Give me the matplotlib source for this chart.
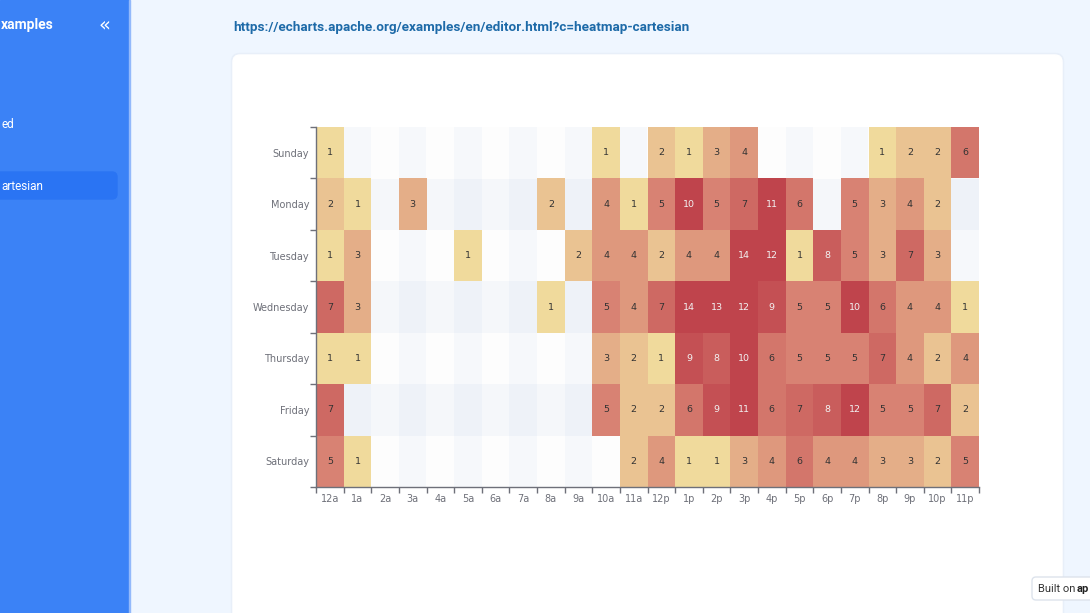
import numpy as np
import matplotlib
matplotlib.use("Agg")
import matplotlib.pyplot as plt
from matplotlib.colors import LinearSegmentedColormap
from matplotlib.patches import FancyBboxPatch, Rectangle

# data (y index 0 = Saturday at the bottom, like the echarts example)
hours = ['12a', '1a', '2a', '3a', '4a', '5a', '6a', '7a', '8a', '9a', '10a', '11a',
         '12p', '1p', '2p', '3p', '4p', '5p', '6p', '7p', '8p', '9p', '10p', '11p']
days = ['Saturday', 'Friday', 'Thursday', 'Wednesday', 'Tuesday', 'Monday', 'Sunday']

saturday = [5, 1, 0, 0, 0, 0, 0, 0, 0, 0, 0, 2, 4, 1, 1, 3, 4, 6, 4, 4, 3, 3, 2, 5]
friday = [7, 0, 0, 0, 0, 0, 0, 0, 0, 0, 5, 2, 2, 6, 9, 11, 6, 7, 8, 12, 5, 5, 7, 2]
thursday = [1, 1, 0, 0, 0, 0, 0, 0, 0, 0, 3, 2, 1, 9, 8, 10, 6, 5, 5, 5, 7, 4, 2, 4]
wednesday = [7, 3, 0, 0, 0, 0, 0, 0, 1, 0, 5, 4, 7, 14, 13, 12, 9, 5, 5, 10, 6, 4, 4, 1]
tuesday = [1, 3, 0, 0, 0, 1, 0, 0, 0, 2, 4, 4, 2, 4, 4, 14, 12, 1, 8, 5, 3, 7, 3, 0]
monday = [2, 1, 0, 3, 0, 0, 0, 0, 2, 0, 4, 1, 5, 10, 5, 7, 11, 6, 0, 5, 3, 4, 2, 0]
sunday = [1, 0, 0, 0, 0, 0, 0, 0, 0, 0, 1, 0, 2, 1, 3, 4, 0, 0, 0, 0, 1, 2, 2, 6]

values = np.array([saturday, friday, thursday, wednesday, tuesday, monday, sunday])

W, H = 1090, 613
fig = plt.figure(figsize=(W / 100, H / 100), dpi=100)

# page background in pixel coords
bg = fig.add_axes([0, 0, 1, 1])
bg.set_xlim(0, W)
bg.set_ylim(H, 0)
bg.axis('off')
bg.add_patch(Rectangle((0, 0), W, H, color='#eff6ff', zorder=0))
bg.add_patch(Rectangle((0, 0), 129, H, color='#3b82f6', zorder=1))
bg.add_patch(Rectangle((129, 0), 1.2, H, color='#93b9fb', zorder=1))
bg.add_patch(FancyBboxPatch((-10, 172), 127, 27, boxstyle='round,pad=0,rounding_size=5',
                            color='#2a74f3', zorder=2))
# sidebar texts, only the part that is visible on screen
bg.text(1, 25, 'xamples', color='white', fontsize=10, weight='bold', ha='left',
        va='center', family='Roboto', zorder=3)
bg.text(104, 25, '\u00ab', color='white', fontsize=14, ha='center', va='center', zorder=3)
bg.text(1, 125, 'ed', color='white', fontsize=8.5, ha='left', va='center',
        family='Roboto', zorder=3)
bg.text(1, 186, 'artesian', color='white', fontsize=8.5, ha='left',
        va='center', family='Roboto', zorder=3)
bg.text(233, 28, 'https://echarts.apache.org/examples/en/editor.html?c=heatmap-cartesian',
        color='#1d6aa8', fontsize=9.7, weight='bold', ha='left', va='center',
        family='Roboto', zorder=3)

# card with a faint shadow
bg.add_patch(FancyBboxPatch((231.5, 53.5), 832, 600, boxstyle='round,pad=0,rounding_size=8',
                            color='#e8eff9', zorder=2))
bg.add_patch(FancyBboxPatch((233, 55), 829, 600, boxstyle='round,pad=0,rounding_size=7',
                            color='white', zorder=3))

# "Built on" badge
bg.add_patch(FancyBboxPatch((1032, 577), 70, 23, boxstyle='round,pad=0,rounding_size=4',
                            facecolor='white', edgecolor='#dde3ec', lw=1, zorder=4))
bg.text(1038, 588.5, 'Built on', color='#333333', fontsize=8, ha='left', va='center',
        family='Roboto', zorder=5)
bg.text(1077, 588.5, 'ap', color='#222222', fontsize=8, weight='bold', ha='left',
        va='center', family='Roboto', zorder=5)

# heatmap grid area
left, right, top, bottom = 316, 979, 127, 487
ax = fig.add_axes([left / W, 1 - bottom / H, (right - left) / W, (bottom - top) / H])
ax.patch.set_alpha(0)
ax.set_zorder(5)

n_rows, n_cols = values.shape

# split areas: alternating translucent bands on both axes
c0 = np.array([250, 250, 250]) / 255
c1 = np.array([210, 219, 238]) / 255
base = np.ones((n_rows, n_cols, 3))
col_band = np.where((np.arange(n_cols) % 2)[None, :, None] == 1, c1, c0)
row_band = np.where((np.arange(n_rows) % 2)[:, None, None] == 1, c1, c0)
split = base * 0.8 + col_band * 0.2
split = split * 0.8 + row_band * 0.2
ax.imshow(split, extent=(0, n_cols, 0, n_rows), origin='lower', aspect='auto',
          interpolation='nearest', zorder=0)

cmap = LinearSegmentedColormap.from_list('ec', ['#f6efa6', '#d88273', '#bf444c'])
masked = np.ma.masked_where(values == 0, values)
ax.pcolormesh(np.arange(n_cols + 1), np.arange(n_rows + 1), masked, cmap=cmap,
              vmin=0, vmax=10, zorder=1)

for i in range(n_rows):
    for j in range(n_cols):
        v = values[i, j]
        if v > 0:
            ax.text(j + 0.5, i + 0.5, str(v), ha='center', va='center', fontsize=6.8,
                    color='#f2f2f2' if v >= 8 else '#333333', zorder=2)

ax.set_xlim(0, n_cols)
ax.set_ylim(0, n_rows)

axis_color = '#6E7079'
ax.set_xticks(np.arange(n_cols + 1))
ax.set_xticklabels([])
ax.set_xticks(np.arange(n_cols) + 0.5, minor=True)
ax.set_xticklabels(hours, minor=True)
ax.set_yticks(np.arange(n_rows + 1))
ax.set_yticklabels([])
ax.set_yticks(np.arange(n_rows) + 0.5, minor=True)
ax.set_yticklabels(days, minor=True)

ax.tick_params(which='major', length=4, width=1, color=axis_color)
ax.tick_params(which='minor', length=0, labelsize=7, labelcolor=axis_color)
ax.tick_params(axis='x', which='minor', pad=5)
ax.tick_params(axis='y', which='minor', pad=5)

for side in ['top', 'right']:
    ax.spines[side].set_visible(False)
for side in ['left', 'bottom']:
    ax.spines[side].set_color(axis_color)
    ax.spines[side].set_linewidth(1)

fig.savefig('out.png', dpi=100)
